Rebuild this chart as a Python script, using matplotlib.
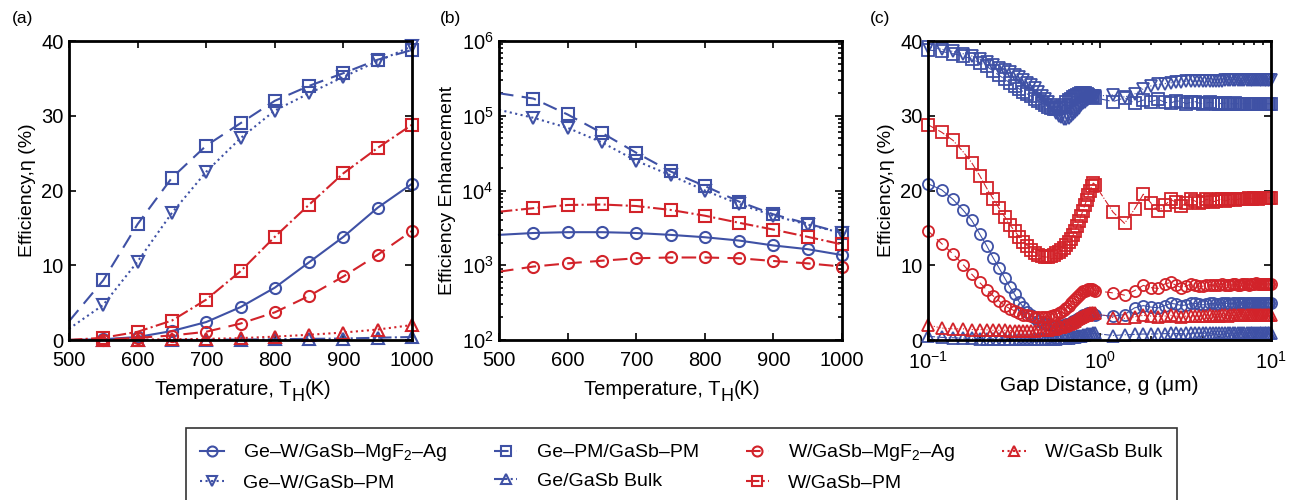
import numpy as np
import matplotlib
matplotlib.use('Agg')
import matplotlib.pyplot as plt

plt.rcParams['font.family'] = ['Liberation Sans', 'DejaVu Sans']
plt.rcParams['mathtext.fontset'] = 'custom'
plt.rcParams['mathtext.rm'] = 'Liberation Sans'
plt.rcParams['mathtext.it'] = 'Liberation Sans:italic'
plt.rcParams['font.size'] = 14

blue = '#3f51a5'
red = '#d2232a'

# series names (legend order)
names = ['Ge\u2013W/GaSb\u2013MgF$_2$\u2013Ag', 'Ge\u2013W/GaSb\u2013PM', 'Ge\u2013PM/GaSb\u2013PM',
         'Ge/GaSb Bulk', 'W/GaSb\u2013MgF$_2$\u2013Ag', 'W/GaSb\u2013PM', 'W/GaSb Bulk']

# (a) efficiency vs temperature ################################################
temp = [500, 550, 600, 650, 700, 750, 800, 850, 900, 950, 1000]
eff_ge_w_mgf2 = [0, 0.1, 0.4, 1.2, 2.4, 4.4, 7.0, 10.4, 13.8, 17.7, 20.9]
eff_ge_w_pm = [1.5, 4.7, 10.5, 17.0, 22.5, 27.0, 30.7, 33.0, 35.2, 37.3, 39.3]
eff_ge_pm_pm = [2.5, 8.0, 15.5, 21.7, 26.0, 29.0, 32.0, 34.0, 35.7, 37.5, 38.8]
eff_ge_bulk = [0, 0, 0, 0.02, 0.04, 0.06, 0.1, 0.15, 0.2, 0.3, 0.4]
eff_w_mgf2 = [0, 0.05, 0.3, 0.6, 1.1, 2.2, 3.7, 5.9, 8.5, 11.4, 14.6]
eff_w_pm = [0, 0.3, 1.1, 2.6, 5.4, 9.2, 13.8, 18.1, 22.3, 25.7, 28.8]
eff_w_bulk = [0, 0.02, 0.05, 0.1, 0.15, 0.25, 0.45, 0.7, 1.0, 1.4, 2.0]

# (b) efficiency enhancement vs temperature (bulk cases not shown) ############
enh_ge_w_mgf2 = [2550, 2700, 2770, 2770, 2700, 2550, 2370, 2140, 1840, 1640, 1370]
enh_ge_w_pm = [1.2e5, 9.4e4, 6.9e4, 4.4e4, 2.5e4, 1.6e4, 1.0e4, 6.6e3, 4.6e3, 3.5e3, 2.7e3]
enh_ge_pm_pm = [2.0e5, 1.7e5, 1.04e5, 5.9e4, 3.2e4, 1.8e4, 1.15e4, 7.1e3, 4.8e3, 3.6e3, 2.7e3]
enh_w_mgf2 = [820, 960, 1060, 1150, 1240, 1270, 1270, 1240, 1140, 1060, 960]
enh_w_pm = [5.2e3, 5.8e3, 6.4e3, 6.5e3, 6.2e3, 5.5e3, 4.6e3, 3.7e3, 3.0e3, 2.4e3, 1.9e3]

# (c) efficiency vs gap distance ###############################################
gap = np.concatenate([np.round(np.arange(0.10, 0.941, 0.02), 2),
                      np.round(np.arange(1.2, 10.01, 0.2), 1)])
gap_ge_w_mgf2 = [20.9, 20.1, 18.8, 17.4, 16.0, 14.2, 12.6, 11.0, 9.6, 8.3,
                 7.1, 6.1, 5.1, 4.4, 3.8, 3.3, 2.9, 2.6, 2.4, 2.2,
                 2.1, 2.0, 1.9, 1.9, 1.9, 1.9, 2.0, 2.1, 2.2, 2.3,
                 2.5, 2.6, 2.8, 3.0, 3.1, 3.3, 3.4, 3.5, 3.6, 3.6,
                 3.6, 3.5, 3.4,
                 3.2, 3.4, 4.3, 4.6, 4.4, 4.3, 4.6, 4.9, 4.8, 4.6,
                 4.7, 4.9, 4.9, 4.8, 4.7, 4.8, 4.9, 4.9, 4.8, 4.8,
                 4.9, 4.9, 4.9, 4.8, 4.9, 4.9, 5.0, 4.9, 4.9, 4.9,
                 5.0, 5.0, 4.9, 4.9, 5.0, 5.0, 5.0, 4.9, 5.0, 5.0,
                 5.0, 5.0, 5.0, 4.9, 4.9]
gap_ge_w_pm = [39.2, 38.9, 38.6, 38.3, 38.0, 37.6, 37.2, 36.8, 36.4, 36.1,
               35.8, 35.5, 35.2, 34.8, 34.4, 34.1, 33.7, 33.2, 32.7, 32.3,
               31.9, 31.4, 30.9, 30.4, 30.0, 29.8, 29.6, 29.6, 29.7, 29.9,
               30.2, 30.5, 30.8, 31.1, 31.4, 31.7, 31.9, 32.1, 32.3, 32.4,
               32.5, 32.6, 32.6,
               32.8, 32.5, 32.9, 33.6, 34.0, 34.2, 34.3, 34.4, 34.5, 34.5,
               34.6, 34.6, 34.6, 34.6, 34.7, 34.7, 34.7, 34.7, 34.7, 34.7,
               34.7, 34.8, 34.8, 34.8, 34.8, 34.8, 34.8, 34.8, 34.8, 34.8,
               34.8, 34.8, 34.8, 34.8, 34.8, 34.8, 34.8, 34.8, 34.8, 34.8,
               34.8, 34.8, 34.8, 34.8, 34.8]
gap_ge_pm_pm = [38.8, 38.6, 38.3, 38.0, 37.6, 37.1, 36.6, 36.0, 35.4, 34.9,
                34.4, 34.0, 33.6, 33.2, 32.9, 32.6, 32.3, 32.0, 31.7, 31.4,
                31.2, 31.0, 30.9, 30.9, 31.0, 31.2, 31.5, 31.8, 32.1, 32.3,
                32.5, 32.7, 32.8, 32.9, 33.0, 33.0, 33.0, 32.9, 32.8, 32.7,
                32.6, 32.5, 32.4,
                31.9, 32.4, 31.7, 32.1, 31.9, 32.2, 31.8, 31.7, 32.0, 31.9,
                31.6, 31.8, 31.9, 31.7, 31.6, 31.7, 31.8, 31.7, 31.6, 31.6,
                31.7, 31.7, 31.6, 31.6, 31.6, 31.7, 31.6, 31.6, 31.6, 31.6,
                31.6, 31.6, 31.6, 31.6, 31.6, 31.6, 31.6, 31.6, 31.6, 31.6,
                31.6, 31.6, 31.6, 31.6, 31.6]
gap_ge_bulk = [0.5, 0.35, 0.3, 0.25, 0.22, 0.2, 0.18, 0.16, 0.15, 0.14,
               0.13, 0.12, 0.12, 0.12, 0.12, 0.12, 0.12, 0.13, 0.13, 0.14,
               0.15, 0.16, 0.17, 0.19, 0.21, 0.23, 0.26, 0.29, 0.32, 0.36,
               0.40, 0.44, 0.49, 0.54, 0.59, 0.64, 0.69, 0.74, 0.78, 0.82,
               0.85, 0.87, 0.88,
               0.6, 0.7, 0.75, 0.8, 0.8, 0.82, 0.85, 0.87, 0.87, 0.86,
               0.87, 0.88, 0.89, 0.89, 0.9, 0.9, 0.9, 0.9, 0.9, 0.91,
               0.91, 0.92, 0.92, 0.92, 0.92, 0.92, 0.93, 0.93, 0.93, 0.93,
               0.93, 0.93, 0.94, 0.94, 0.94, 0.94, 0.94, 0.94, 0.94, 0.94,
               0.95, 0.95, 0.95, 0.95, 0.95]
gap_w_mgf2 = [14.6, 12.9, 11.5, 10.1, 8.8, 7.7, 6.7, 5.9, 5.2, 4.6,
              4.2, 3.9, 3.6, 3.4, 3.3, 3.2, 3.1, 3.1, 3.1, 3.1,
              3.1, 3.2, 3.3, 3.4, 3.6, 3.8, 4.0, 4.3, 4.6, 4.9,
              5.2, 5.5, 5.8, 6.0, 6.3, 6.5, 6.6, 6.7, 6.8, 6.8,
              6.8, 6.7, 6.6,
              6.3, 6.0, 6.6, 7.3, 7.0, 6.9, 7.5, 7.7, 7.3, 7.0,
              7.2, 7.5, 7.4, 7.2, 7.2, 7.4, 7.4, 7.3, 7.3, 7.4,
              7.5, 7.4, 7.3, 7.4, 7.5, 7.5, 7.4, 7.4, 7.5, 7.5,
              7.5, 7.4, 7.5, 7.5, 7.5, 7.6, 7.5, 7.5, 7.5, 7.5,
              7.5, 7.5, 7.5, 7.5, 7.5]
gap_w_pm = [28.8, 27.8, 26.7, 25.2, 23.7, 22.0, 20.3, 18.9, 17.6, 16.5,
            15.4, 14.6, 13.8, 13.1, 12.6, 12.1, 11.7, 11.4, 11.2, 11.1,
            11.1, 11.2, 11.4, 11.6, 11.8, 12.0, 12.3, 12.7, 13.1, 13.5,
            14.0, 14.6, 15.3, 15.9, 16.6, 17.3, 18.0, 18.7, 19.4, 20.0,
            20.6, 21.0, 20.8,
            17.1, 15.6, 17.5, 19.5, 18.3, 17.2, 18.0, 18.8, 18.4, 17.9,
            18.3, 18.8, 18.6, 18.3, 18.5, 18.8, 18.7, 18.5, 18.6, 18.8,
            18.8, 18.6, 18.7, 18.9, 18.8, 18.7, 18.8, 18.9, 18.9, 18.8,
            18.9, 19.0, 18.9, 18.9, 19.0, 19.0, 18.9, 19.0, 19.0, 19.0,
            19.0, 19.0, 19.0, 19.0, 19.0]
gap_w_bulk = [2.0, 1.6, 1.5, 1.5, 1.4, 1.4, 1.35, 1.3, 1.3, 1.3,
              1.25, 1.25, 1.25, 1.25, 1.25, 1.25, 1.25, 1.3, 1.3, 1.35,
              1.4, 1.45, 1.5, 1.6, 1.7, 1.8, 1.9, 2.0, 2.15, 2.3,
              2.45, 2.6, 2.75, 2.9, 3.05, 3.2, 3.3, 3.4, 3.5, 3.55,
              3.6, 3.6, 3.6,
              3.0, 2.9, 3.1, 3.3, 3.2, 3.1, 3.2, 3.3, 3.2, 3.1,
              3.2, 3.2, 3.2, 3.2, 3.2, 3.2, 3.3, 3.2, 3.2, 3.2,
              3.3, 3.3, 3.2, 3.3, 3.3, 3.3, 3.3, 3.3, 3.3, 3.3,
              3.3, 3.3, 3.3, 3.3, 3.3, 3.3, 3.3, 3.3, 3.3, 3.3,
              3.3, 3.3, 3.3, 3.3, 3.4]

colors = [blue, blue, blue, blue, red, red, red]
markers = ['o', 'v', 's', '^', 'o', 's', '^']
styles = ['-', ':', (0, (7, 4)), '-.', (0, (7, 4)), '-.', ':']

fig = plt.figure(figsize=(12.98, 5.0), dpi=100)
axa = fig.add_axes([69 / 1298, 0.32, 343 / 1298, 0.598])
axb = fig.add_axes([499 / 1298, 0.32, 343 / 1298, 0.598])
axc = fig.add_axes([928 / 1298, 0.32, 343 / 1298, 0.598])


def temp_label(x_px):
    # "Temperature, T_H(K)" with a large subscript, built from three texts
    t1 = fig.text(x_px / 1298, 1 - 395 / 500, 'Temperature, T', fontsize=14.5, va='baseline')
    t2 = fig.add_artist(plt.Annotation('H', xy=(1, 0.15), xycoords=t1, fontsize=13,
                                       va='center', ha='left'))
    fig.add_artist(plt.Annotation('(K)', xy=(1, 0), xycoords=(t2, t1), fontsize=14.5,
                                  va='bottom', ha='left'))


# (a)
eff_all = [eff_ge_w_mgf2, eff_ge_w_pm, eff_ge_pm_pm, eff_ge_bulk, eff_w_mgf2, eff_w_pm, eff_w_bulk]
handles = []
for i in range(7):
    h, = axa.plot(temp, eff_all[i], color=colors[i], ls=styles[i], lw=1.5, marker=markers[i],
                  ms=8, mfc='none', mew=1.5, markevery=slice(1, None), clip_on=False, label=names[i])
    handles.append(h)
axa.set_xlim(500, 1000)
axa.set_ylim(0, 40)
axa.set_xticks([500, 600, 700, 800, 900, 1000])
axa.set_yticks([0, 10, 20, 30, 40])
axa.set_ylabel('Efficiency,\u03b7 (%)')
temp_label(155)

# (b)
enh_all = [enh_ge_w_mgf2, enh_ge_w_pm, enh_ge_pm_pm, None, enh_w_mgf2, enh_w_pm, None]
for i in range(7):
    if enh_all[i] is None:
        continue
    axb.plot(temp, enh_all[i], color=colors[i], ls=styles[i], lw=1.5, marker=markers[i],
             ms=8, mfc='none', mew=1.5, markevery=slice(1, None), clip_on=False)
axb.set_yscale('log')
axb.set_xlim(500, 1000)
axb.set_ylim(1e2, 1e6)
axb.set_xticks([500, 600, 700, 800, 900, 1000])
axb.set_ylabel('Efficiency Enhancement')
temp_label(584)

# (c)
gap_all = [gap_ge_w_mgf2, gap_ge_w_pm, gap_ge_pm_pm, gap_ge_bulk, gap_w_mgf2, gap_w_pm, gap_w_bulk]
for i in range(7):
    axc.plot(gap, gap_all[i], color=colors[i], ls=styles[i], lw=0.8, marker=markers[i],
             ms=8, mfc='none', mew=1.3, clip_on=False)
axc.set_xscale('log')
axc.set_xlim(0.1, 10)
axc.set_ylim(0, 40)
axc.set_yticks([0, 10, 20, 30, 40])
axc.set_xlabel('Gap Distance, g (\u03bcm)', fontsize=15)
axc.set_ylabel('Efficiency,\u03b7 (%)')

for ax in [axa, axb, axc]:
    for sp in ax.spines.values():
        sp.set_linewidth(2)
    ax.tick_params(which='both', direction='in', top=True, right=True, width=1.2)
    ax.tick_params(which='major', length=5, labelsize=14.5)
    ax.tick_params(axis='x', which='major', pad=8)
    ax.tick_params(axis='y', which='major', pad=4)
    ax.tick_params(which='minor', length=3)
    ax.xaxis.labelpad = 2

fig.text(12 / 1298, 1 - 18 / 500, '(a)', fontsize=12.5, va='center')
fig.text(440 / 1298, 1 - 18 / 500, '(b)', fontsize=12.5, va='center')
fig.text(870 / 1298, 1 - 18 / 500, '(c)', fontsize=12.5, va='center')

leg = fig.legend(handles=handles, loc='upper center', ncol=4, bbox_to_anchor=(0.525, 1 - 418 / 500),
                 fontsize=14, frameon=True, fancybox=False, edgecolor='black',
                 handlelength=1.2, columnspacing=2.4, handletextpad=1.0, labelspacing=0.55,
                 borderpad=0.75, markerscale=0.9)
leg.get_frame().set_linewidth(1.2)

fig.savefig('out.png', dpi=100)
